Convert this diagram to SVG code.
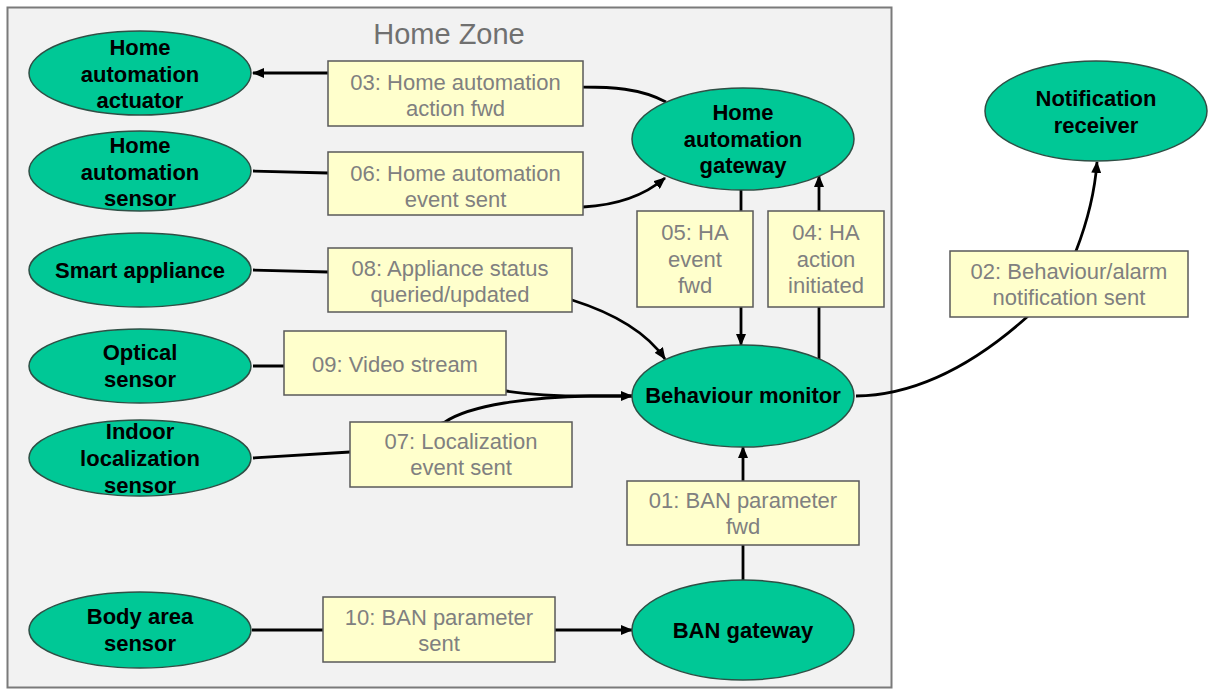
<svg xmlns="http://www.w3.org/2000/svg" width="1211" height="691" viewBox="0 0 1211 691">
<style>
.zone{fill:#f2f2f2;stroke:#7a7a7a;stroke-width:2}
.title{font-family:"Liberation Sans",Arial,sans-serif;font-size:29px;fill:#707070;text-anchor:middle}
.node ellipse{fill:#00c896;stroke:#2f4f45;stroke-width:1.5}
.node text{font-family:"Liberation Sans",Arial,sans-serif;font-size:22px;font-weight:bold;fill:#000;text-anchor:middle}
.lbl rect{fill:#ffffcc;stroke:#5a5a5a;stroke-width:1.5}
.lbl text{font-family:"Liberation Sans",Arial,sans-serif;font-size:22px;fill:#808080;text-anchor:middle}
.conn path{fill:none;stroke:#000;stroke-width:2.8}
</style>
<defs>
<marker id="arr" markerUnits="userSpaceOnUse" markerWidth="12" markerHeight="10" refX="11" refY="5" orient="auto">
<path d="M0,0 L12,5 L0,10 z" fill="#000"/>
</marker>
</defs>
<rect class="zone" x="7.5" y="7.5" width="884" height="680"/>
<text class="title" x="449" y="44">Home Zone</text>

<g id="connectors" class="conn">
<path d="M666,102 C640,88 610,87 583,87 L328,73 L253,73" marker-end="url(#arr)"/>
<path d="M253,171 L328,173 L583,207 C620,205 645,195 665,178" marker-end="url(#arr)"/>
<path d="M741,190 L741,345" marker-end="url(#arr)"/>
<path d="M819,359 L819,176" marker-end="url(#arr)"/>
<path d="M253,270 L328,272 L572,300 C610,312 645,330 665,359" marker-end="url(#arr)"/>
<path d="M253,366 L284,366 L506,391 C530,395 560,396 590,396 L632,396" marker-end="url(#arr)"/>
<path d="M253,458 L350,452 L445,422 C470,405 530,397 590,396 L632,396"/>
<path d="M856,396 C930,395 990,350 1027,317 L1076,251 C1088,220 1095,190 1097,162" marker-end="url(#arr)"/>
<path d="M743,580 L743,447" marker-end="url(#arr)"/>
<path d="M252,630 L632,630" marker-end="url(#arr)"/>
</g>

<g id="labels" class="lbl">
<g id="l03"><rect x="328" y="61" width="255" height="65"/><text x="455.5" y="90">03: Home automation</text><text x="455.5" y="116">action fwd</text></g>
<g id="l06"><rect x="328" y="152" width="255" height="63"/><text x="455.5" y="181">06: Home automation</text><text x="455.5" y="207">event sent</text></g>
<g id="l08"><rect x="328" y="248" width="244" height="64"/><text x="450" y="276">08: Appliance status</text><text x="450" y="302">queried/updated</text></g>
<g id="l09"><rect x="284" y="331" width="222" height="64"/><text x="395" y="372">09: Video stream</text></g>
<g id="l07"><rect x="350" y="422" width="222" height="65"/><text x="461" y="449">07: Localization</text><text x="461" y="475">event sent</text></g>
<g id="l05"><rect x="637" y="211" width="116" height="96"/><text x="695" y="240">05: HA</text><text x="695" y="267">event</text><text x="695" y="293">fwd</text></g>
<g id="l04"><rect x="768" y="211" width="116" height="96"/><text x="826" y="240">04: HA</text><text x="826" y="267">action</text><text x="826" y="293">initiated</text></g>
<g id="l02"><rect x="950" y="251" width="238" height="66"/><text x="1069" y="279">02: Behaviour/alarm</text><text x="1069" y="305">notification sent</text></g>
<g id="l01"><rect x="627" y="481" width="232" height="64"/><text x="743" y="508">01: BAN parameter</text><text x="743" y="534">fwd</text></g>
<g id="l10"><rect x="323" y="597" width="232" height="65"/><text x="439" y="625">10: BAN parameter</text><text x="439" y="651">sent</text></g>
</g>

<g id="n-actuator" class="node"><ellipse cx="140" cy="73" rx="111" ry="42"/><text x="140" y="55">Home</text><text x="140" y="82">automation</text><text x="140" y="108">actuator</text></g>
<g id="n-hasensor" class="node"><ellipse cx="140" cy="171" rx="111" ry="40"/><text x="140" y="153">Home</text><text x="140" y="180">automation</text><text x="140" y="206">sensor</text></g>
<g id="n-smart" class="node"><ellipse cx="140" cy="270" rx="111" ry="37"/><text x="140" y="278">Smart appliance</text></g>
<g id="n-optical" class="node"><ellipse cx="140" cy="366" rx="111" ry="37"/><text x="140" y="360">Optical</text><text x="140" y="387">sensor</text></g>
<g id="n-indoor" class="node"><ellipse cx="140" cy="458" rx="111" ry="38"/><text x="140" y="439">Indoor</text><text x="140" y="466">localization</text><text x="140" y="493">sensor</text></g>
<g id="n-body" class="node"><ellipse cx="140" cy="630" rx="111" ry="38"/><text x="140" y="624">Body area</text><text x="140" y="651">sensor</text></g>
<g id="n-gateway" class="node"><ellipse cx="743" cy="139" rx="111" ry="51"/><text x="743" y="120">Home</text><text x="743" y="147">automation</text><text x="743" y="173">gateway</text></g>
<g id="n-monitor" class="node"><ellipse cx="743" cy="396" rx="111" ry="51"/><text x="743" y="403">Behaviour monitor</text></g>
<g id="n-bangw" class="node"><ellipse cx="743" cy="630" rx="111" ry="50"/><text x="743" y="638">BAN gateway</text></g>
<g id="n-notif" class="node"><ellipse cx="1096" cy="111" rx="111" ry="50"/><text x="1096" y="106">Notification</text><text x="1096" y="133">receiver</text></g>
</svg>
